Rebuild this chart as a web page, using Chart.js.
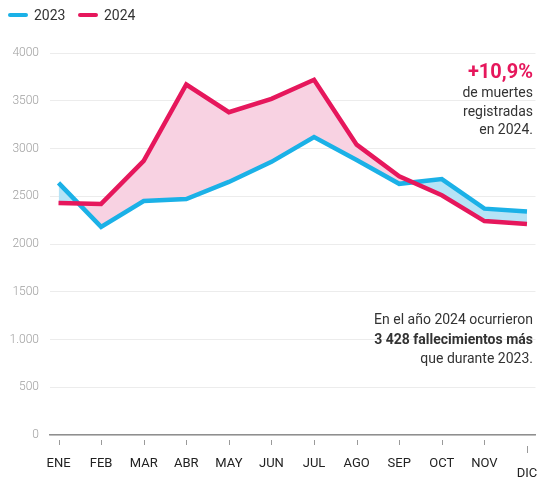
<!DOCTYPE html>
<html>
<head>
<meta charset="utf-8">
<script src="https://cdn.jsdelivr.net/npm/chart.js@4"></script>
<style>
  html, body { margin: 0; padding: 0; background: #fff; }
  #wrap { position: relative; width: 538px; height: 479px; font-family: Roboto, "Noto Sans", sans-serif; }
  canvas { position: absolute; left: 0; top: 0; }
  .leg { position: absolute; top: 6px; font-size: 14px; color: #333; line-height: 18px; }
  .leg .sw { display: inline-block; width: 20px; height: 4px; border-radius: 2px; vertical-align: middle; margin-right: 6px; position: relative; top: -1px; }
  .note { position: absolute; right: 5px; text-align: right; color: #333; font-size: 14px; }
</style>
</head>
<body>
<div id="wrap">
  <canvas id="c" width="538" height="479"></canvas>
  <div class="leg" style="left:8px"><span class="sw" style="background:#1bb1e7"></span>2023</div>
  <div class="leg" style="left:78px"><span class="sw" style="background:#e6175c"></span>2024</div>
  <div class="note" style="top:59px; line-height:18.5px;">
    <div style="color:#e6175c; font-weight:700; font-size:20px; line-height:24px;">+10,9%</div>
    <div>de muertes</div>
    <div>registradas</div>
    <div>en 2024.</div>
  </div>
  <div class="note" style="top:310px; line-height:19.5px;">
    <div>En el año 2024 ocurrieron</div>
    <div style="font-weight:700;">3 428 fallecimientos más</div>
    <div>que durante 2023.</div>
  </div>
</div>
<script>
const months = ['ENE','FEB','MAR','ABR','MAY','JUN','JUL','AGO','SEP','OCT','NOV','DIC'];
const deaths2023 = [2640, 2180, 2450, 2470, 2650, 2860, 3120, 2880, 2630, 2680, 2370, 2340];
const deaths2024 = [2430, 2420, 2870, 3670, 3380, 3520, 3720, 3040, 2710, 2510, 2240, 2210];
const yTickValues = [0, 500, 1000, 1500, 2000, 2500, 3000, 3500, 4000];
const yTickLabels = ['0', '500', '1.000', '1500', '2000', '2500', '3000', '3500', '4000'];

const BLUE = '#1bb1e7', PINK = '#e6175c';
const BLUE_FILL = '#b6e3f6', PINK_FILL = '#f8d2e2';

const tickMarks = {
  id: 'tickMarks',
  afterDraw(chart) {
    const xs = chart.scales.x, ctx = chart.ctx, b = chart.chartArea.bottom;
    ctx.save();
    ctx.strokeStyle = '#9a9a9a';
    ctx.lineWidth = 1;
    months.forEach((m, i) => {
      const x = Math.round(xs.getPixelForValue(i)) + 0.5;
      ctx.beginPath();
      if (i === months.length - 1) { ctx.moveTo(x, b + 11); ctx.lineTo(x, b + 18); }
      else { ctx.moveTo(x, b + 5); ctx.lineTo(x, b + 10); }
      ctx.stroke();
    });
    ctx.restore();
  }
};

new Chart(document.getElementById('c'), {
  type: 'line',
  data: {
    datasets: [
      {
        label: '2023',
        data: deaths2023.map((v, i) => ({ x: i, y: v })),
        borderColor: BLUE,
        backgroundColor: BLUE_FILL,
        borderWidth: 4.5,
        pointRadius: 0,
        fill: false,
        tension: 0,
        order: 1
      },
      {
        label: '2024',
        data: deaths2024.map((v, i) => ({ x: i, y: v })),
        borderColor: PINK,
        backgroundColor: PINK_FILL,
        borderWidth: 4.5,
        pointRadius: 0,
        fill: { target: 0, above: PINK_FILL, below: BLUE_FILL },
        tension: 0,
        order: 0
      }
    ]
  },
  plugins: [tickMarks],
  options: {
    responsive: false,
    animation: false,
    layout: { padding: { top: 53, right: 2.5, left: 0, bottom: 0 } },
    plugins: {
      legend: { display: false },
      tooltip: { enabled: false },
      filler: { drawTime: 'beforeDatasetsDraw' }
    },
    scales: {
      x: {
        type: 'linear',
        min: -0.2,
        max: 11.2,
        afterBuildTicks: (s) => { s.ticks = months.map((m, i) => ({ value: i })); },
        afterFit: (s) => { s.height = 44; s.paddingRight = 0; s.paddingLeft = 0; },
        grid: { display: true, drawOnChartArea: false, drawTicks: true, tickLength: 21, tickColor: 'rgba(0,0,0,0)' },
        border: { display: true, color: '#8f8f8f', width: 1.5 },
        ticks: {
          autoSkip: false,
          maxRotation: 0,
          padding: 0,
          color: '#222',
          font: (c) => ({ family: 'Roboto', size: 13, lineHeight: c.index === months.length - 1 ? 0.92 : 1.2 }),
          callback: (v) => (v === months.length - 1 ? ['', months[v]] : months[v])
        }
      },
      y: {
        min: 0,
        max: 4000,
        afterBuildTicks: (s) => { s.ticks = yTickValues.map(v => ({ value: v })); },
        afterFit: (s) => { s.width = 50; },
        grid: { color: '#ececec', lineWidth: 1, drawTicks: false },
        border: { display: false },
        ticks: {
          padding: 11,
          color: '#a0a0a0',
          font: { family: 'Roboto', size: 12, weight: '300' },
          callback: (v) => yTickLabels[yTickValues.indexOf(v)]
        }
      }
    }
  }
});
</script>
</body>
</html>
